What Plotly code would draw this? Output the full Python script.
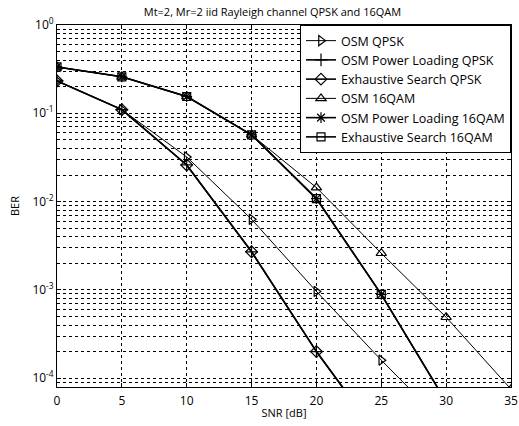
import plotly.graph_objects as go

snr = [0, 5, 10, 15, 20, 25, 30, 35]

osm_qpsk = [0.233, 0.11, 0.032, 0.0063, 9.6e-4, 1.6e-4, 2.9e-5]
pl_qpsk = [0.233, 0.11, 0.026, 0.0027, 2.0e-4, 2.0e-5]
es_qpsk = [0.233, 0.11, 0.026, 0.0027, 2.0e-4, 2.0e-5]
osm_16qam = [0.335, 0.259, 0.155, 0.057, 0.0144, 0.0026, 4.9e-4, 7.5e-5]
pl_16qam = [0.335, 0.259, 0.155, 0.057, 0.0108, 8.9e-4, 5.4e-5]
es_16qam = [0.335, 0.259, 0.155, 0.057, 0.0108, 8.9e-4, 5.4e-5]

names = ["OSM QPSK", "OSM Power Loading QPSK", "Exhaustive Search QPSK",
         "OSM 16QAM", "OSM Power Loading 16QAM", "Exhaustive Search 16QAM"]

y_tickvals = [1e-4, 1e-3, 1e-2, 1e-1, 1]
y_ticktext = ["10<sup>-4</sup>", "10<sup>-3</sup>", "10<sup>-2</sup>", "10<sup>-1</sup>", "10<sup>0</sup>"]
x_tickvals = [0, 5, 10, 15, 20, 25, 30, 35]

series = [osm_qpsk, pl_qpsk, es_qpsk, osm_16qam, pl_16qam, es_16qam]
styles = [
    dict(symbol="triangle-right-open", size=9, lw=1.0),
    dict(symbol="cross-thin-open", size=9, lw=1.6),
    dict(symbol="diamond-open", size=9, lw=1.6),
    dict(symbol="triangle-up-open", size=9, lw=1.0),
    dict(symbol="asterisk-open", size=9, lw=1.6),
    dict(symbol="square-open", size=8, lw=1.6),
]

fig = go.Figure()
for name, ys, st in zip(names, series, styles):
    fig.add_trace(go.Scatter(
        x=snr[:len(ys)], y=ys, name=name, mode="lines+markers",
        line=dict(color="black", width=st["lw"]),
        marker=dict(symbol=st["symbol"], size=st["size"], color="black",
                    line=dict(color="black", width=1.2)),
    ))

minor_y = [m * 10.0 ** e for e in range(-5, 0) for m in range(2, 10)]

fig.update_layout(
    width=519, height=426,
    margin=dict(l=57, r=8, t=25, b=39),
    paper_bgcolor="white", plot_bgcolor="white",
    font=dict(family="Open Sans", size=12, color="black"),
    title=dict(text="Mt=2, Mr=2 iid Rayleigh channel QPSK and 16QAM",
               x=0.525, xref="container", xanchor="center", y=0.972, yanchor="middle",
               font=dict(size=11)),
    legend=dict(x=1, y=1, xanchor="right", yanchor="top",
                bgcolor="white", bordercolor="black", borderwidth=1,
                font=dict(size=12.5), entrywidth=212, entrywidthmode="pixels"),
    showlegend=True,
)
fig.update_xaxes(
    range=[0, 35], tickvals=x_tickvals, showgrid=True, automargin=False,
    gridcolor="black", griddash="dot", gridwidth=1,
    showline=True, linecolor="black", linewidth=1, mirror="ticks",
    ticks="inside", ticklen=4, tickcolor="black", zeroline=False,
    tickfont=dict(size=12), ticklabelstandoff=3,
    title=dict(text="SNR [dB]", standoff=0, font=dict(size=11)),
)
fig.update_yaxes(
    type="log", range=[-4.1, 0], tickvals=y_tickvals, ticktext=y_ticktext,
    automargin=False,
    showgrid=True, gridcolor="black", griddash="dot", gridwidth=1,
    showline=True, linecolor="black", linewidth=1, mirror="ticks",
    ticks="inside", ticklen=4, tickcolor="black", zeroline=False,
    tickfont=dict(size=12),
    minor=dict(tickvals=minor_y, showgrid=True, gridcolor="black", griddash="dot",
               gridwidth=1, ticks="inside", ticklen=2, tickcolor="black"),
    title=dict(text="BER", standoff=10, font=dict(size=11)),
)

fig.write_html("out.html", config={"displayModeBar": False},
               post_script="document.body.style.margin='0';document.body.style.overflow='hidden';")
